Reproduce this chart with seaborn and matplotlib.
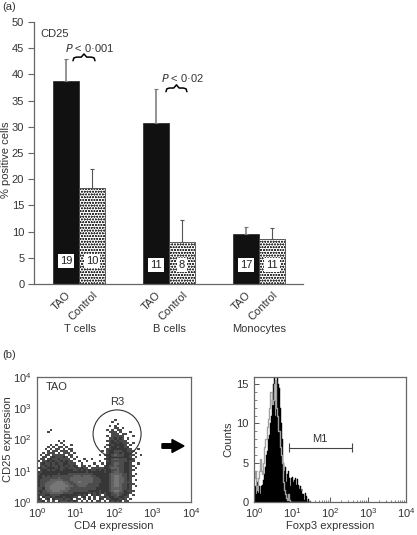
import numpy as np
import pandas as pd
import matplotlib
matplotlib.use('Agg')
import matplotlib.pyplot as plt
from matplotlib.colors import ListedColormap
from matplotlib.patches import Ellipse, FancyArrow
import seaborn as sns

# panel (a)
cells = ['T cells', 'B cells', 'Monocytes']
groups = ['TAO', 'Control']
tao_means = [38.8, 30.8, 9.6]
control_means = [18.4, 8.1, 8.5]
tao_upper = [42.9, 37.2, 10.8]
control_upper = [21.9, 12.3, 10.6]
tao_n = [19, 11, 17]
control_n = [10, 8, 11]

# panel (b) left, density read per 1/15 decade, first row is the top one
density_rows = [
    "000000000000000000000000000000100000000000",
    "000000000000000000000000000001000000000000",
    "000000000000000000000000000000010000000000",
    "000000000000000000000000000010100000000000",
    "000000000000000000000000000000110100000000",
    "000001000000000000000000000101011000000000",
    "000010000000000000000000000011101000100000",
    "000000000000000000000000000001110110000000",
    "000000000000000000000000000101111100010000",
    "000000000000000000000000000011212101000000",
    "000000001010000000000000000112121110000000",
    "000000000100000000000000000012212111010000",
    "000001010010010000000000000121222210100000",
    "000010101101000000000000001012232212000000",
    "000101011010110000000000000112222221100100",
    "000010110111010000000000010122333221110000",
    "001011101011101000000000000122332322101000",
    "010110111110110000000000101223433322110010",
    "001101211121010100000000000123333322101000",
    "011012112111101000100100001223443332210000",
    "101121211212110010010000100123333332110000",
    "012112121122111001000010010223443322100100",
    "011212112121212101101001001233433322110000",
    "121122212112111212110111112234443322101000",
    "012212122122221121212112121223343322110000",
    "212222222222222222232222221223443322100000",
    "122222223222333333333322222234444332101000",
    "223232333333334443444332222234554332110000",
    "223333334333344444444433222234554432100000",
    "233334444433344444444433322234554432101000",
    "233344455544334454444433322234554431100000",
    "233444555554433444443333222234554332110000",
    "233445555555443344433333222234554332101000",
    "132445555554433333333332222234444332100000",
    "223344555444333333332222122234554321110000",
    "123334444433332222221212121223443322100000",
    "211223333222222212120212101223343221010000",
    "102112122212221101201010112122332211000000",
    "210120211121120110102010210112221210100000",
    "112010102111212101010201101021212011000000",
]

# panel (b) right, counts per 0.025 decade starting at 10^0
tao_counts = [0.5, 2, 1, 2.5, 1.2, 2, 1, 2, 2.2, 2.8, 2.5, 3.5, 4.5, 6, 6.5, 8,
              8.5, 10, 11, 13, 15, 16, 11, 13, 16, 15, 14.5, 12, 10, 8, 6.5, 5, 4, 4.5, 2.5, 3.5,
              4, 3, 2, 3, 3.2, 2.5, 2.8, 3, 2.2, 2.9, 2.2, 1.6, 2, 1.4, 1.7, 1, 1, 0.3,
              1.2, 0.8, 0, 0.4, 0, 0]
iso_counts = [3, 4, 2, 1.5, 3, 4, 5.5, 4, 3.5, 5, 6.5, 7, 8, 8, 9.5, 10.5, 12, 14, 14, 12.5,
              13, 15, 15.5, 12, 11, 9, 9, 7, 6, 5, 4, 2.5, 1.5, 1, 0.5, 0.2, 1, 0.3, 0, 0,
              0, 0, 0, 0, 0, 0, 0, 0, 0, 0, 0, 0, 0, 0, 0, 0, 0, 0, 0, 0]

sns.set_style('ticks')
plt.rcParams['font.family'] = ['Liberation Sans', 'DejaVu Sans']
plt.rcParams['mathtext.default'] = 'regular'
plt.rcParams['font.size'] = 8
plt.rcParams['text.color'] = '#333333'
plt.rcParams['axes.labelcolor'] = '#333333'
plt.rcParams['xtick.labelcolor'] = '#333333'
plt.rcParams['ytick.labelcolor'] = '#333333'
plt.rcParams['hatch.linewidth'] = 0.5
plt.rcParams['hatch.color'] = '#333333'

W, H = 417, 535
fig = plt.figure(figsize=(W / 100, H / 100), dpi=100)


def px_axes(x0, y0, x1, y1):
    return fig.add_axes([x0 / W, 1 - y1 / H, (x1 - x0) / W, (y1 - y0) / H])


def brace(ax, x0, x1, y):
    mid = (x0 + x1) / 2
    ax.plot([x0, x0 + 0.01, x0 + 0.04, mid - 0.03, mid, mid + 0.03, x1 - 0.04, x1 - 0.01, x1],
            [y - 0.7, y - 0.15, y, y, y + 0.6, y, y, y - 0.15, y - 0.7],
            color='black', lw=1.1, solid_capstyle='round')


# ---- (a)
ax = px_axes(34, 22, 303, 284)
df = pd.DataFrame({'cell': cells * 2,
                   'group': [groups[0]] * 3 + [groups[1]] * 3,
                   'value': tao_means + control_means})
sns.barplot(data=df, x='cell', y='value', hue='group', hue_order=groups, order=cells,
            palette=['#111111', 'white'], width=0.578, gap=0, errorbar=None,
            edgecolor='#222222', linewidth=0.5, legend=False, ax=ax)
tao_bars = ax.patches[:3]
control_bars = ax.patches[3:6]
for b in control_bars:
    b.set_hatch('oooooo')
    b.set_edgecolor('#333333')

tao_x = [b.get_x() + b.get_width() / 2 for b in tao_bars]
control_x = [b.get_x() + b.get_width() / 2 for b in control_bars]
tao_err = np.array(tao_upper) - np.array(tao_means)
control_err = np.array(control_upper) - np.array(control_means)
ax.errorbar(tao_x, tao_means, yerr=[np.zeros(3), tao_err], fmt='none', ecolor='#777777',
            elinewidth=1.1, capsize=1.5, capthick=0.8)
ax.errorbar(control_x, control_means, yerr=[np.zeros(3), control_err], fmt='none', ecolor='#555555',
            elinewidth=0.8, capsize=1.5, capthick=0.8)

label_y = [4.4, 3.6, 3.6]
for xs, ns in ((tao_x, tao_n), (control_x, control_n)):
    for x, n, y in zip(xs, ns, label_y):
        ax.text(x, y, str(n), ha='center', va='center', fontsize=8, color='#222222',
                bbox=dict(facecolor='white', edgecolor='none', pad=1.6))

ax.set_xlim(-0.5, 2.49)
ax.set_ylim(0, 50)
ax.set_yticks(range(0, 51, 5))
ax.set_ylabel('% positive cells')
ax.yaxis.set_label_coords((11 - 34) / 269, 0.475)
ax.set_xlabel('')
ax.set_xticks(tao_x + control_x)
ax.set_xticklabels(['TAO'] * 3 + ['Control'] * 3, rotation=45, ha='right', rotation_mode='anchor')
ax.tick_params(axis='x', length=0, pad=4)
ax.tick_params(axis='y', length=4, width=0.8, color='#666666', pad=3)
sns.despine(ax=ax)
for s in ('left', 'bottom'):
    ax.spines[s].set_color('#666666')
    ax.spines[s].set_linewidth(0.9)

ax.text((40 - 79) / 90, 47.7, 'CD25', va='center', fontsize=8)
ax.text((90 - 79) / 90, 45, '$\\mathit{P}$ < 0·001', ha='center', va='center')
ax.text((183 - 79) / 90, 39.3, '$\\mathit{P}$ < 0·02', ha='center', va='center')
brace(ax, (73 - 79) / 90, (95 - 79) / 90, 43.3)
brace(ax, (166 - 79) / 90, (187 - 79) / 90, 37.4)

for c, px in zip(cells, [80, 169, 259]):
    fig.text(px / W, 1 - 329 / H, c, ha='center', va='center')
fig.text(2 / W, 1 - 7 / H, '(a)', ha='left', va='center')
fig.text(2 / W, 1 - 355 / H, '(b)', ha='left', va='center')

decade_labels = ['$10^{%d}$' % i for i in range(5)]
minor_pos = [d + m for d in range(4) for m in np.log10(range(2, 10))]

# ---- (b) scatter
ax2 = px_axes(37, 377, 191, 502)
grid = np.zeros((60, 60))
for i, row in enumerate(density_rows):
    r = len(density_rows) - 1 - i
    grid[r, :len(row)] = [int(c) for c in row]
shades = ['white', '#4a4a4a', '#363636', '#4c4c4c', '#626262', '#767676']
sns.heatmap(grid, cmap=ListedColormap(shades), vmin=-0.5, vmax=5.5, cbar=False, ax=ax2,
            xticklabels=False, yticklabels=False)
ax2.set_xlim(0, 60)
ax2.set_ylim(0, 60)
ax2.set_xticks(np.arange(5) * 15)
ax2.set_yticks(np.arange(5) * 15)
ax2.set_xticklabels(decade_labels)
ax2.set_yticklabels(decade_labels, rotation=0)
ax2.set_xticks(np.array(minor_pos) * 15, minor=True)
ax2.set_yticks(np.array(minor_pos) * 15, minor=True)
ax2.add_patch(Ellipse((31.2, 32.7), 18.7, 23, fill=False, edgecolor='#333333', lw=0.8))
ax2.text(3.6, 55.2, 'TAO', va='center')
ax2.text(31.2, 48, 'R3', ha='center', va='center')
ax2.set_xlabel('CD4 expression', labelpad=1)
ax2.set_ylabel('CD25 expression', labelpad=0)

# ---- (b) histogram
ax3 = px_axes(254, 377, 406, 502)
channels = 10 ** (0.0125 + 0.025 * np.arange(len(tao_counts)))
sns.histplot(x=channels, weights=tao_counts, log_scale=True, binwidth=0.025, binrange=(0, 1.5),
             element='step', color='black', alpha=1, linewidth=0.3, ax=ax3)
sns.histplot(x=channels, weights=iso_counts, log_scale=True, binwidth=0.025, binrange=(0, 1.5),
             element='step', fill=False, color='#a0a0a0', linewidth=1, ax=ax3)
ax3.set_xlim(1, 10000)
ax3.set_ylim(0, 15.9)
ax3.set_yticks([0, 5, 10, 15])
ax3.set_xticks([1, 10, 100, 1000, 10000])
ax3.set_xticklabels(decade_labels)
ax3.set_xticks(10 ** np.array(minor_pos), minor=True)
ax3.set_yticks(np.arange(16), minor=True)
ax3.errorbar([10 ** 0.92, 10 ** 2.58], [6.9, 6.9], yerr=0.6, fmt='none', ecolor='#444444', elinewidth=0.8)
ax3.plot([10 ** 0.92, 10 ** 2.58], [6.9, 6.9], color='#444444', lw=0.8)
ax3.text(10 ** 1.73, 8, 'M1', ha='center', va='center')
ax3.set_xlabel('Foxp3 expression', labelpad=1)
ax3.set_ylabel('Counts', labelpad=2)

for a in (ax2, ax3):
    a.tick_params(which='major', direction='in', length=3.5, width=0.7, color='#555555', pad=3,
                  left=True, bottom=True)
    a.tick_params(axis='y', which='major', pad=4)
    a.tick_params(which='minor', direction='in', length=1.8, width=0.5, color='#555555',
                  left=True, bottom=True)
    for s in a.spines.values():
        s.set_visible(True)
        s.set_color('#666666')
        s.set_linewidth(0.9)

# arrow between the flow panels
fig.add_artist(FancyArrow(162 / W, 1 - 446 / H, 22 / W, 0, width=4.5 / H, head_width=13 / H,
                          head_length=12 / W, length_includes_head=True, color='black',
                          transform=fig.transFigure))

fig.savefig('out.png', dpi=100)
